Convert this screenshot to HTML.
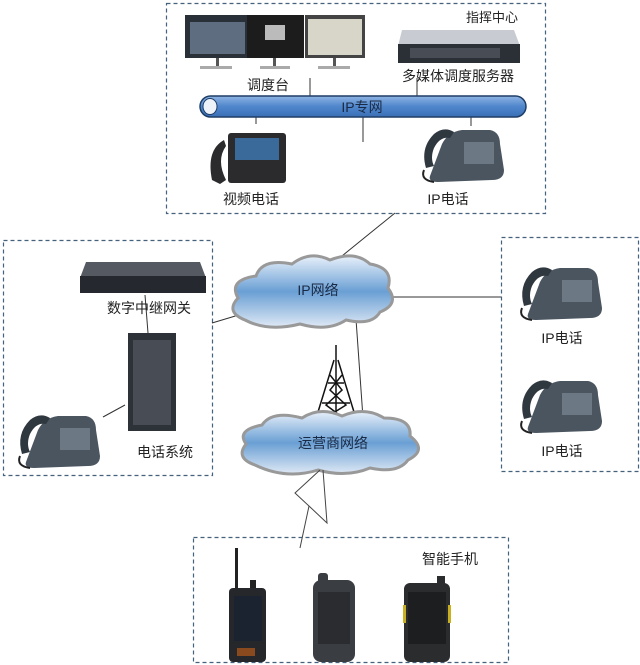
<!DOCTYPE html>
<html><head><meta charset="utf-8"><style>
html,body{margin:0;padding:0;background:#fff;}
svg{display:block;}
text{font-family:"Liberation Sans","Noto Sans CJK SC",sans-serif;font-size:14px;fill:#222;}
</style></head><body>
<svg width="640" height="665" viewBox="0 0 640 665" xmlns="http://www.w3.org/2000/svg">
<defs>
<linearGradient id="cl" x1="0" y1="0" x2="0" y2="1"><stop offset="0" stop-color="#e8f0fa"/><stop offset="0.5" stop-color="#6a9fd4"/><stop offset="1" stop-color="#dfe9f5"/></linearGradient>
<linearGradient id="pipe" x1="0" y1="0" x2="0" y2="1"><stop offset="0" stop-color="#8fb4e3"/><stop offset="0.5" stop-color="#4f86cc"/><stop offset="1" stop-color="#3a6fb6"/></linearGradient>
<g id="phone">
<path d="M10,52 L22,20 Q28,8 42,6 L70,6 Q80,8 80,20 L84,46 Q84,56 72,56 L18,58 Q8,58 10,52 Z" fill="#4a5560"/>
<path d="M6,44 Q0,24 14,10 Q24,2 34,8 L30,14 Q20,12 14,24 Q10,34 14,42 Z" fill="#2f373f"/>
<rect x="44" y="18" width="30" height="22" fill="#6c7884"/>
<path d="M4,46 Q0,56 14,58" stroke="#222" stroke-width="2" fill="none"/>
</g>
</defs>

<g fill="none" stroke="#44627e" stroke-width="1.2" stroke-dasharray="4,3">
<rect x="166.5" y="3.5" width="379" height="210"/>
<rect x="3.5" y="240.5" width="209" height="235"/>
<rect x="501.5" y="237.5" width="137" height="234"/>
<rect x="193.5" y="537.5" width="315" height="125"/>
</g>

<g stroke="#333" stroke-width="1" fill="none">
<line x1="310" y1="78" x2="310" y2="96"/>
<line x1="417" y1="78" x2="417" y2="96"/>
<line x1="256" y1="116" x2="256" y2="124"/>
<line x1="363" y1="116" x2="363" y2="142"/>
<line x1="471" y1="116" x2="471" y2="126"/>
<line x1="395" y1="213" x2="337" y2="260"/>
<line x1="212" y1="323" x2="242" y2="314"/>
<line x1="385" y1="297" x2="501" y2="297"/>
<line x1="145" y1="295" x2="148" y2="333"/>
<line x1="103" y1="417" x2="125" y2="405"/>
<line x1="355" y1="305" x2="363" y2="418"/>
</g>

<g>
<rect x="185" y="15" width="65" height="43" fill="#2a3038"/><rect x="190" y="22" width="55" height="32" fill="#5e6e80"/>
<rect x="216" y="58" width="3" height="8" fill="#555"/><rect x="200" y="66" width="32" height="3" fill="#aaa"/>
<rect x="247" y="15" width="57" height="43" fill="#1c1c1c"/><rect x="265" y="25" width="20" height="15" fill="#bbb"/>
<rect x="273" y="58" width="3" height="8" fill="#555"/><rect x="260" y="66" width="30" height="3" fill="#aaa"/>
<rect x="305" y="15" width="60" height="43" fill="#444"/><rect x="308" y="19" width="54" height="36" fill="#d8d6c8"/>
<rect x="333" y="58" width="3" height="8" fill="#555"/><rect x="318" y="66" width="32" height="3" fill="#aaa"/>
</g>
<path d="M402,30 L514,30 L520,46 L398,46 Z" fill="#c8ccd2"/>
<rect x="398" y="44" width="122" height="19" fill="#2b2f36"/>
<rect x="410" y="48" width="90" height="10" fill="#474c55"/>
<text x="268" y="90" text-anchor="middle">调度台</text>
<text x="458" y="81" text-anchor="middle">多媒体调度服务器</text>
<text x="492" y="22" text-anchor="middle" style="font-size:13px">指挥中心</text>

<rect x="200" y="96" width="326" height="21" rx="10.5" fill="url(#pipe)" stroke="#1f3e66" stroke-width="1.5"/>
<ellipse cx="210" cy="106.5" rx="7" ry="8" fill="#eef3fa" stroke="#1f3e66"/>
<text x="362" y="112" text-anchor="middle" style="fill:#1a2a44">IP专网</text>

<rect x="228" y="133" width="58" height="50" rx="3" fill="#2b2b2e"/>
<rect x="235" y="138" width="44" height="22" fill="#3a6a9a"/>
<path d="M224,140 Q206,150 212,180 L220,184 L226,180 Q216,160 226,146 Z" fill="#2b2b2e"/>
<text x="251" y="204" text-anchor="middle">视频电话</text>
<use href="#phone" x="420" y="124"/>
<text x="448" y="204" text-anchor="middle">IP电话</text>

<path d="M86,262 L200,262 L206,278 L80,278 Z" fill="#555a62"/>
<rect x="80" y="276" width="126" height="17" fill="#25282e"/>
<text x="149" y="313" text-anchor="middle">数字中继网关</text>
<rect x="128" y="333" width="48" height="98" fill="#2d3138"/>
<rect x="133" y="340" width="38" height="85" fill="#474c55"/>
<text x="165" y="457" text-anchor="middle">电话系统</text>
<use href="#phone" x="16" y="410"/>

<use href="#phone" x="518" y="262"/>
<text x="562" y="343" text-anchor="middle">IP电话</text>
<use href="#phone" x="518" y="375"/>
<text x="562" y="456" text-anchor="middle">IP电话</text>

<g stroke="#999" stroke-width="3" fill="url(#cl)">
<path d="M245,320 Q225,312 238,298 Q228,280 256,276 Q262,258 292,264 Q310,250 330,260 Q355,250 370,264 Q394,268 388,288 Q400,304 380,312 Q372,326 346,320 Q328,332 300,324 Q268,332 245,320 Z"/>
</g>
<text x="318" y="295" text-anchor="middle" style="fill:#1a2a44">IP网络</text>

<g stroke="#111" stroke-width="1.5" fill="none">
<line x1="336" y1="345" x2="336" y2="425"/>
<line x1="334" y1="360" x2="314" y2="425"/><line x1="338" y1="360" x2="358" y2="425"/>
<path d="M330,375 L342,390 L326,405 L346,420 M342,375 L330,390 L346,405 L322,420"/>
<line x1="328" y1="383" x2="344" y2="383"/><line x1="322" y1="403" x2="350" y2="403"/>
</g>

<g stroke="#999" stroke-width="3" fill="url(#cl)">
<path d="M255,465 Q235,458 246,444 Q236,430 262,425 Q272,410 302,418 Q320,406 342,416 Q365,406 384,418 Q412,418 410,436 Q428,450 408,460 Q398,474 370,468 Q346,478 318,470 Q286,480 255,465 Z"/>
</g>
<text x="333" y="448" text-anchor="middle" style="fill:#1a2a44">运营商网络</text>

<g stroke="#444" stroke-width="1" fill="none">
<polyline points="320,470 295,493 309,506 300,548"/>
<polyline points="323,470 327,523 309,506"/>
</g>

<text x="450" y="564" text-anchor="middle">智能手机</text>
<rect x="235" y="548" width="3" height="40" fill="#222"/>
<rect x="250" y="580" width="6" height="10" fill="#222"/>
<rect x="229" y="588" width="37" height="74" rx="4" fill="#25272b"/>
<rect x="234" y="596" width="28" height="45" fill="#1b2230"/>
<rect x="237" y="648" width="18" height="8" fill="#8a4a1e"/>
<rect x="318" y="573" width="10" height="10" rx="3" fill="#3a3d42"/>
<rect x="313" y="580" width="42" height="82" rx="8" fill="#3a3d42"/>
<rect x="318" y="592" width="32" height="52" fill="#2a2c30"/>
<rect x="437" y="576" width="8" height="10" fill="#2a2c2e"/>
<rect x="404" y="583" width="46" height="79" rx="6" fill="#2a2c2e"/>
<rect x="408" y="592" width="38" height="52" fill="#1d1e20"/>
<rect x="403" y="605" width="3" height="18" fill="#c9b020"/><rect x="448" y="605" width="3" height="18" fill="#c9b020"/>
</svg>
</body></html>
